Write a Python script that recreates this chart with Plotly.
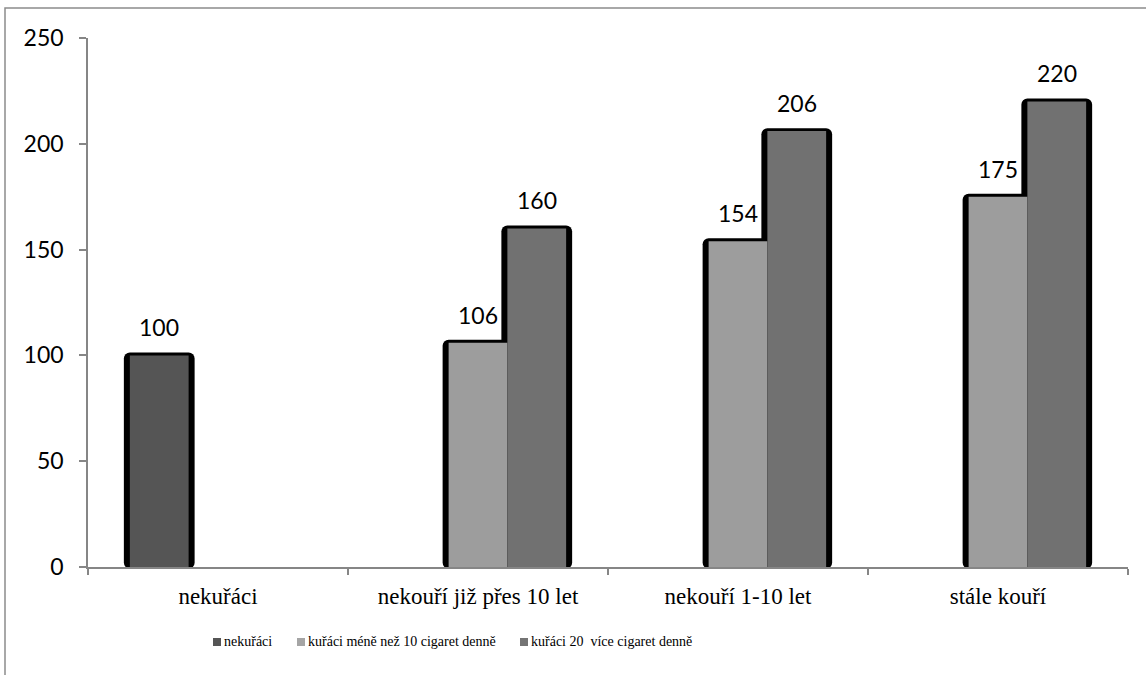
import plotly.graph_objects as go

# Categories and series values
categories = ["nekuřáci", "nekouří již přes 10 let", "nekouří 1-10 let", "stále kouří"]
series_names = ["nekuřáci", "kuřáci méně než 10 cigaret denně", "kuřáci 20  více cigaret denně"]
nekuraci = [100, 0, 0, 0]
kuraci_mene_10 = [0, 106, 154, 175]
kuraci_20_vice = [0, 160, 206, 220]
y_ticks = [0, 50, 100, 150, 200, 250]

series_values = [nekuraci, kuraci_mene_10, kuraci_20_vice]
fill_colors = ["#555555", "#9d9d9d", "#717171"]

# Plot-area geometry in pixels
L, T, PLOT_W, PLOT_H = 88, 38, 1040, 529


def px_x(px):
    return (px - L) / PLOT_W


def px_y(py):
    return (T + PLOT_H - py) / PLOT_H


# Bar geometry (category units: one category = 1.0)
bar_w = 0.226
edge = 6 / (PLOT_W / 4)          # black outline width, category units
top_pad = 1.4                    # outline above bar top, data units
base_pad = -0.8
offsets = [-bar_w, 0.0, bar_w]

fig = go.Figure()

# black rounded "frames" behind all bars
for vals, off in zip(series_values, offsets):
    fig.add_trace(go.Bar(
        x=categories,
        y=[v + top_pad - base_pad if v > 0 else -base_pad for v in vals],
        base=base_pad,
        width=bar_w + 2 * edge,
        offset=off - bar_w / 2 - edge,
        marker=dict(color="#000000", cornerradius=6, line=dict(width=0)),
        showlegend=False,
        hoverinfo="skip",
    ))

# coloured bars
for name, vals, off, col in zip(series_names, series_values, offsets, fill_colors):
    fig.add_trace(go.Bar(
        name=name,
        x=categories,
        y=vals,
        width=bar_w,
        offset=off - bar_w / 2,
        marker=dict(color=col, line=dict(width=0)),
        showlegend=False,
    ))

# value labels
annotations = []
for vals, off in zip(series_values, offsets):
    for i, v in enumerate(vals):
        if v > 0:
            annotations.append(dict(
                x=i + off, y=v, xref="x", yref="y",
                text=str(v), showarrow=False, yshift=28,
                font=dict(family="Lato", size=23, color="#000000"),
            ))

# legend row below the axis: small square swatch followed by the series name
legend_swatch_x = [213, 297, 520]
legend_colors = ["#555555", "#a5a5a5", "#747474"]
legend_y = 642
shapes = []
for name, sx, col in zip(series_names, legend_swatch_x, legend_colors):
    shapes.append(dict(
        type="rect", xref="paper", yref="paper",
        x0=px_x(sx), x1=px_x(sx + 8), y0=px_y(legend_y + 4), y1=px_y(legend_y - 4),
        line=dict(width=0), fillcolor=col,
    ))
    annotations.append(dict(
        x=px_x(sx + 9), y=px_y(legend_y - 1), xref="paper", yref="paper",
        xanchor="left", yanchor="middle", showarrow=False, text=name,
        font=dict(family="Liberation Serif", size=14, color="#000000"),
    ))

# outer chart frame
shapes.append(dict(
    type="rect", xref="paper", yref="paper",
    x0=px_x(5), x1=px_x(1160), y0=px_y(690), y1=px_y(8),
    line=dict(color="#8c8c8c", width=1.5),
    fillcolor="rgba(0,0,0,0)",
    layer="below",
))

fig.update_layout(
    width=1146, height=675,
    margin=dict(l=L, r=1146 - L - PLOT_W, t=T, b=675 - T - PLOT_H),
    paper_bgcolor="#ffffff",
    plot_bgcolor="#ffffff",
    barmode="overlay",
    annotations=annotations,
    shapes=shapes,
    showlegend=False,
)

fig.update_xaxes(
    type="category",
    showline=True, linecolor="#868686", linewidth=1.5,
    ticks="outside", tickson="boundaries", ticklen=6, tickcolor="#868686", tickwidth=1.5,
    showgrid=False, zeroline=False,
    tickfont=dict(family="Liberation Serif", size=23, color="#000000"),
    ticklabelstandoff=8,
    range=[-0.5, 3.5],
)
fig.update_yaxes(
    range=[0, 250],
    tickvals=y_ticks,
    showline=True, linecolor="#868686", linewidth=1.5,
    ticks="outside", ticklen=7, tickcolor="#868686", tickwidth=1.5,
    showgrid=False, zeroline=False,
    tickfont=dict(family="Lato", size=23, color="#000000"),
    ticklabelstandoff=11,
)

fig.write_html("out.html")
